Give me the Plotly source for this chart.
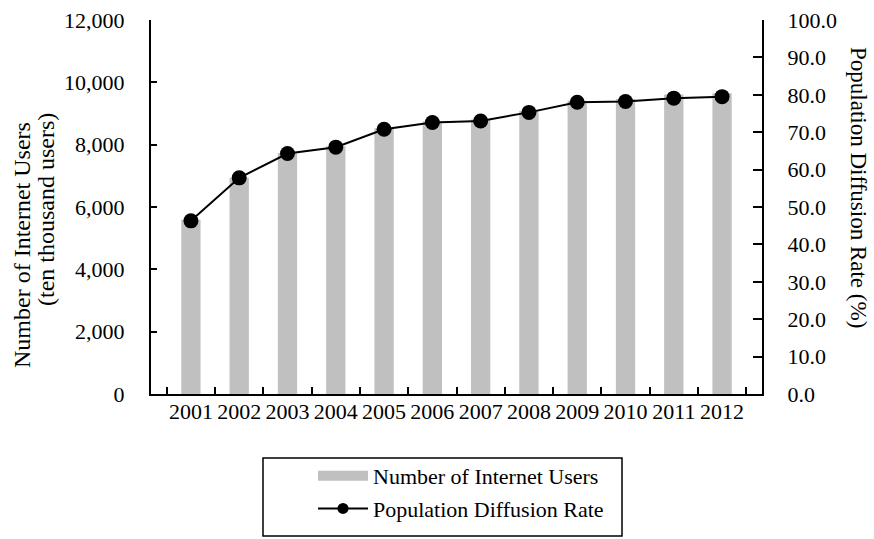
import plotly.graph_objects as go

years = ["2001", "2002", "2003", "2004", "2005", "2006", "2007", "2008", "2009", "2010", "2011", "2012"]
users = [5593, 6942, 7730, 7948, 8529, 8754, 8811, 9091, 9408, 9462, 9610, 9652]
rate = [46.3, 57.8, 64.3, 66.0, 70.8, 72.6, 73.0, 75.3, 78.0, 78.2, 79.1, 79.5]

left_ticks = [0, 2000, 4000, 6000, 8000, 10000, 12000]
right_ticks = [0, 10, 20, 30, 40, 50, 60, 70, 80, 90, 100]

FONT = "Liberation Serif, Times New Roman, serif"
GREY = "#C0C0C0"
FS = 22
TFS = 24

fig = go.Figure()
fig.add_trace(go.Bar(x=years, y=users, marker=dict(color=GREY, line=dict(width=0)),
                     name="Number of Internet Users", showlegend=False, yaxis="y"))
fig.add_trace(go.Scatter(x=years, y=rate, mode="lines+markers", yaxis="y2",
                         line=dict(color="black", width=2),
                         marker=dict(color="black", size=15),
                         name="Population Diffusion Rate", showlegend=False))
# legend entries
fig.add_trace(go.Scatter(x=[None], y=[None], mode="lines", line=dict(color=GREY, width=12),
                         name="Number of Internet Users", legendgroup="a"))
fig.add_trace(go.Scatter(x=[None], y=[None], mode="lines+markers", line=dict(color="black", width=2),
                         marker=dict(color="black", size=11),
                         name="Population Diffusion Rate", legendgroup="b"))

fig.update_layout(
    width=874, height=539,
    margin=dict(l=151, r=112, t=20, b=145, autoexpand=False),
    plot_bgcolor="white", paper_bgcolor="white",
    font=dict(family=FONT, size=FS, color="black"),
    bargap=0.6,
    xaxis=dict(type="category", showline=True, linecolor="black", linewidth=2,
               ticks="inside", tickson="boundaries", ticklen=7, tickwidth=1.5, tickcolor="black",
               showgrid=False, tickfont=dict(size=FS), tickangle=0, ticklabelstandoff=-3),
    yaxis=dict(range=[0, 12000], tickvals=left_ticks, tickformat=",d", showline=True,
               linecolor="black", linewidth=2, ticks="inside", ticklen=6, tickwidth=1.5,
               tickcolor="black", showgrid=False, zeroline=False, tickfont=dict(size=FS),
               ticklabelstandoff=20),
    yaxis2=dict(range=[0, 100], tickvals=right_ticks, tickformat=".1f", overlaying="y", side="right",
                showline=True, linecolor="black", linewidth=2, ticks="inside", ticklen=9,
                tickwidth=1.5, tickcolor="black", showgrid=False, zeroline=False,
                tickfont=dict(size=FS), ticklabelstandoff=19),
    legend=dict(x=(313 - 151) / 611, y=-(455 - 394) / 374, xanchor="left", yanchor="top",
                orientation="v", font=dict(size=FS), tracegroupgap=1, itemwidth=50,
                bgcolor="rgba(0,0,0,0)"),
    showlegend=True,
)

# axis titles
fig.add_annotation(text="Number of Internet Users", textangle=-90, xref="paper", yref="paper",
                   x=0, xshift=-(151 - 22), y=(394 - 245) / 374, xanchor="center", yanchor="middle",
                   showarrow=False, font=dict(size=TFS, family=FONT))
fig.add_annotation(text="(ten thousand users)", textangle=-90, xref="paper", yref="paper",
                   x=0, xshift=-(151 - 46), y=(394 - 210) / 374, xanchor="center", yanchor="middle",
                   showarrow=False, font=dict(size=TFS, family=FONT))
fig.add_annotation(text="Population Diffusion Rate (%)", textangle=90, xref="paper", yref="paper",
                   x=1.0, xshift=859 - 762, y=(394 - 187) / 374, xanchor="center", yanchor="middle",
                   showarrow=False, font=dict(size=23, family=FONT))

fig.add_shape(type="rect", xref="paper", yref="paper", x0=(263 - 151) / 611, x1=(622 - 151) / 611,
              y0=-(536 - 394) / 374, y1=-(458 - 394) / 374,
              line=dict(color="black", width=1.5), fillcolor="rgba(0,0,0,0)")

fig.write_html("out.html")
